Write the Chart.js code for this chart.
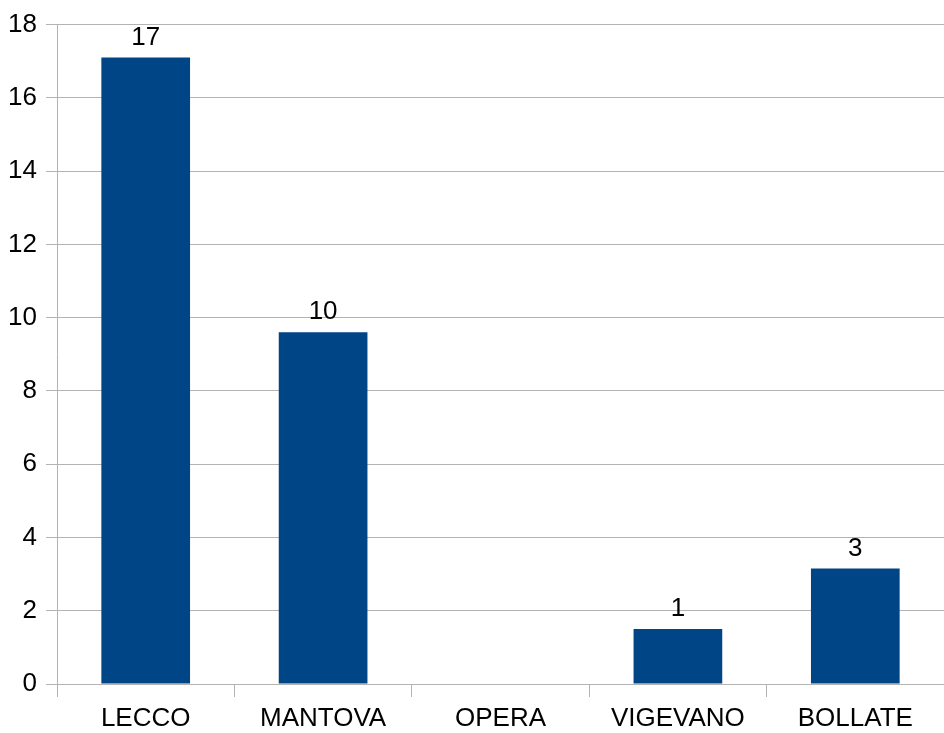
<!DOCTYPE html>
<html>
<head>
<meta charset="utf-8">
<script src="https://cdn.jsdelivr.net/npm/chart.js@4"></script>
<style>
  html, body { margin: 0; padding: 0; background: #fff; }
  #wrap { width: 944px; height: 733px; }
</style>
</head>
<body>
<div id="wrap"><canvas id="c" width="944" height="733"></canvas></div>
<script>
const categories = ["LECCO", "MANTOVA", "OPERA", "VIGEVANO", "BOLLATE"];
const values = [17.1, 9.6, 0, 1.5, 3.15];
const valueLabels = ["17", "10", null, "1", "3"];
const yTicks = [0, 2, 4, 6, 8, 10, 12, 14, 16, 18];

const FONT = "'Liberation Sans', Arial, sans-serif";

const barLabelPlugin = {
  id: 'barLabels',
  afterDatasetsDraw(chart) {
    const ctx = chart.ctx;
    const meta = chart.getDatasetMeta(0);
    ctx.save();
    ctx.font = "26px " + FONT;
    ctx.fillStyle = "#000";
    ctx.textAlign = "center";
    ctx.textBaseline = "alphabetic";
    meta.data.forEach((bar, i) => {
      const t = valueLabels[i];
      if (t == null) return;
      ctx.fillText(t, bar.x, bar.y - 13);
    });
    ctx.restore();
  }
};

new Chart(document.getElementById('c'), {
  type: 'bar',
  data: {
    labels: categories,
    datasets: [{
      data: values,
      backgroundColor: '#004586',
      borderWidth: 0,
      barPercentage: 0.5,
      categoryPercentage: 1.0
    }]
  },
  options: {
    responsive: false,
    animation: false,
    devicePixelRatio: 1,
    layout: { padding: { top: 23, right: 0, left: 0, bottom: 0 } },
    plugins: { legend: { display: false }, tooltip: { enabled: false } },
    scales: {
      x: {
        afterFit(s) { s.height = 49; },
        grid: {
          drawOnChartArea: false,
          drawTicks: true,
          tickLength: 13,
          color: '#b3b3b3',
          offset: true
        },
        border: { color: '#b3b3b3', width: 1 },
        ticks: {
          color: '#000',
          font: { family: FONT, size: 26 },
          padding: 6,
          maxRotation: 0,
          autoSkip: false
        }
      },
      y: {
        min: 0,
        max: 18,
        afterFit(s) { s.width = 57; },
        afterBuildTicks(s) { s.ticks = yTicks.map(v => ({ value: v })); },
        grid: {
          color: '#b3b3b3',
          tickLength: 11,
          drawTicks: true
        },
        border: { color: '#b3b3b3', width: 1 },
        ticks: {
          color: '#000',
          font: { family: FONT, size: 26 },
          padding: 9
        }
      }
    }
  },
  plugins: [barLabelPlugin]
});
</script>
</body>
</html>
